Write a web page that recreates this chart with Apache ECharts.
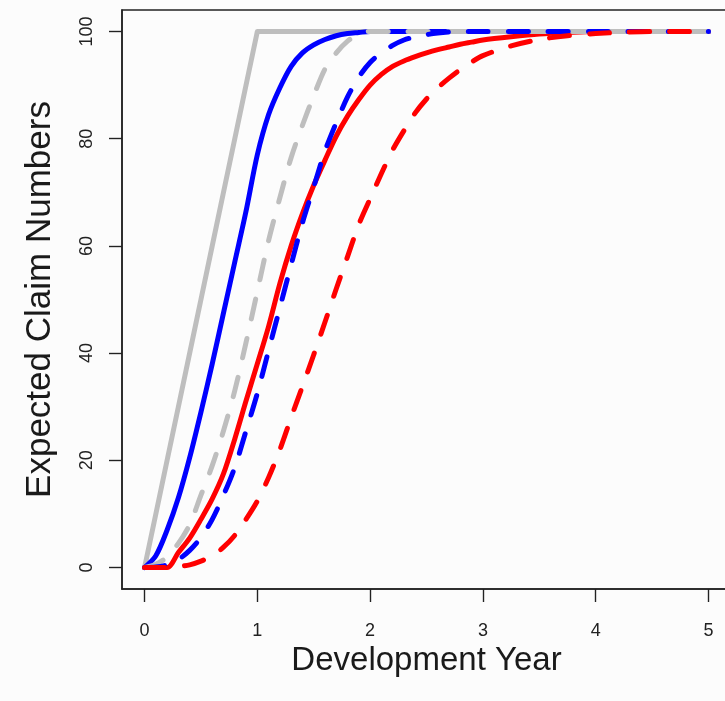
<!DOCTYPE html>
<html>
<head>
<meta charset="utf-8">
<script src="https://cdn.jsdelivr.net/npm/echarts@6/dist/echarts.min.js"></script>
<style>
html,body{margin:0;padding:0;background:#fcfcfc;}
#chart{width:725px;height:701px;}
</style>
</head>
<body>
<div id="chart"></div>
<script>
// Development year grid (x values)
var devYears = [0,0.1,0.2,0.3,0.4,0.5,0.6,0.7,0.8,0.9,1.0,1.1,1.2,1.3,1.4,1.5,1.6,1.7,1.8,1.9,2.0,
  2.1,2.2,2.3,2.4,2.5,2.6,2.7,2.8,2.9,3.0,3.25,3.5,3.75,4.0,4.25,4.5,4.75,5.0];

// Expected claim numbers
var graySolid = [0,10,20,30,40,50,60,70,80,90,100,
  100,100,100,100,100,100,100,100,100,100,100,100,100,100,100,100,100,100,100,100,
  100,100,100,100,100,100,100,100];
var blueSolid = [0,2.2,7,13,20.5,29,38,47.5,57,66.5,77,84.5,89.5,93.5,96,97.5,98.5,99.2,99.6,99.8,100,
  100,100,100,100,100,100,100,100,100,100,100,100,100,100,100,100,100,100];
var redSolid = [0,0,0,2.8,5.5,9,12.8,17.5,24,31.1,38,45,53,60,66,71.3,76,80.5,84.2,87.3,90,
  92,93.5,94.5,95.3,96,96.6,97.1,97.6,98,98.4,99,99.5,99.8,100,100,100,100,100];
var grayDashed = [0,0.6,2,4.5,8,13.5,19,25.5,33,42,51.5,61,69,76.5,82.5,88,93,96,98.2,99.5,100,
  100,100,100,100,100,100,100,100,100,100,100,100,100,100,100,100,100,100];
var blueDashed = [0,0.1,0.5,1.5,3.2,5.6,9,13.5,18.7,25.5,32.5,40.5,48.5,56.5,64.3,71,77.7,83,87.8,91.5,94.2,
  96,97.4,98.4,99,99.4,99.7,99.9,100,100,100,100,100,100,100,100,100,100,100];
var redDashed = [0,0,0,0.2,0.5,1.2,2.2,3.8,6,9,12.4,16.8,22,28,33.8,39.7,45.8,52,58,64,68.8,
  73.5,77.9,81.5,84.8,87.4,89.5,91.3,92.9,94.3,95.5,97.3,98.5,99.2,99.6,99.85,100,100,100];

var xTicks = [0,1,2,3,4,5];
var yTicks = [0,20,40,60,80,100];

function pairs(vals){ return devYears.map(function(x,i){ return [x, vals[i]]; }); }

var chart = echarts.init(document.getElementById('chart'), null, {renderer:'canvas'});

function mkSeries(name, vals, color, dashed, smooth){
  return {
    name: name, type: 'line', data: pairs(vals), showSymbol: false, symbol: 'none',
    smooth: smooth,
    lineStyle: { color: color, width: 5, type: dashed ? [20,20] : 'solid', cap: 'round', join: 'round' },
    silent: true
  };
}

var txt = '#1a1a1a';
var tickStyle = { color: '#222', width: 1.2 };
var option = {
  backgroundColor: '#fcfcfc',
  animation: false,
  grid: { left: 122, top: 10, width: 609, height: 579, show: true, borderColor: '#222', borderWidth: 1.5,
          backgroundColor: 'transparent', outerBoundsMode: 'none', containLabel: false },
  xAxis: [{
    type: 'value', min: -0.2, max: 5.2,
    name: 'Development Year', nameLocation: 'middle', nameGap: 50,
    nameTextStyle: { fontFamily: 'Liberation Sans', fontSize: 33, color: txt },
    axisLine: { show: true, onZero: false, lineStyle: { color: '#222', width: 1.5 } },
    axisTick: { show: true, inside: false, length: 13, lineStyle: tickStyle, customValues: xTicks },
    axisLabel: { show: true, margin: 33, fontFamily: 'Liberation Sans', fontSize: 18, color: '#222', customValues: xTicks },
    splitLine: { show: false }
  }, {
    type: 'value', min: -0.2, max: 5.2, position: 'bottom', offset: 13,
    axisLine: { show: false, onZero: false },
    axisTick: { show: true, inside: true, length: 13, lineStyle: tickStyle, customValues: xTicks },
    axisLabel: { show: false },
    splitLine: { show: false }
  }],
  yAxis: [{
    type: 'value', min: -4, max: 104,
    name: 'Expected Claim Numbers', nameLocation: 'middle', nameGap: 64, nameRotate: 90,
    nameTextStyle: { fontFamily: 'Liberation Sans', fontSize: 35, color: txt },
    axisLine: { show: true, onZero: false, lineStyle: { color: '#222', width: 1.5 } },
    axisTick: { show: true, inside: false, length: 13, lineStyle: tickStyle, customValues: yTicks },
    axisLabel: { show: true, rotate: 90, margin: 26, fontFamily: 'Liberation Sans', fontSize: 18, color: '#222', customValues: yTicks },
    splitLine: { show: false }
  }, {
    type: 'value', min: -4, max: 104, position: 'left', offset: 13,
    axisLine: { show: false, onZero: false },
    axisTick: { show: true, inside: true, length: 13, lineStyle: tickStyle, customValues: yTicks },
    axisLabel: { show: false },
    splitLine: { show: false }
  }],
  series: [
    mkSeries('Gray solid', graySolid, '#bebebe', false, false),
    mkSeries('Blue solid', blueSolid, '#0000ff', false, 0.3),
    mkSeries('Red solid', redSolid, '#ff0000', false, 0.3),
    mkSeries('Gray dashed', grayDashed, '#bebebe', true, 0.3),
    mkSeries('Blue dashed', blueDashed, '#0000ff', true, 0.3),
    mkSeries('Red dashed', redDashed, '#ff0000', true, 0.3)
  ]
};
chart.setOption(option);
</script>
</body>
</html>
